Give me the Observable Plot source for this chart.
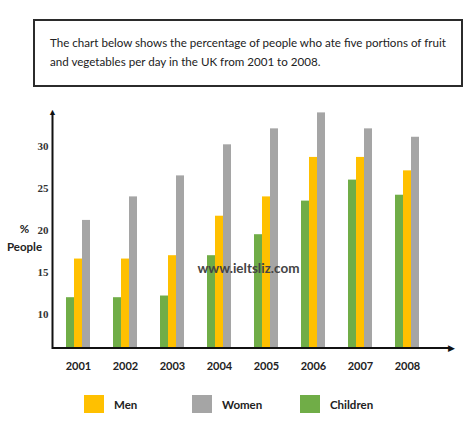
<!DOCTYPE html>
<html>
<head>
<meta charset="utf-8">
<script src="https://cdn.jsdelivr.net/npm/d3@7"></script>
<script src="https://cdn.jsdelivr.net/npm/@observablehq/plot@0.6"></script>
<style>
  html, body { margin: 0; padding: 0; background: #fff; }
  #wrap { position: relative; width: 474px; height: 421px; overflow: hidden; }
  #title {
    position: absolute; left: 33px; top: 19px; width: 426px; height: 64px;
    border: 2px solid #2b2b2b; box-sizing: content-box;
    font-family: Lato, "Noto Sans", sans-serif; font-size: 11.6px; line-height: 19px;
    color: #222; padding: 0; 
  }
  #title div { position: absolute; left: 15px; top: 12px; width: 400px; }
  #chart { position: absolute; left: 0; top: 95px; }
  #legend { position: absolute; left: 84px; top: 395px; display: flex;
    font-family: Lato, "Noto Sans", sans-serif; font-weight: bold; font-size: 11.5px; color: #222; }
  .item { display: flex; align-items: center; width: 108px; }
  .sw { width: 20px; height: 18px; margin-right: 10px; }
</style>
</head>
<body>
<div id="wrap">
  <div id="title"><div id="titletext"></div></div>
  <div id="chart"></div>
  <div id="legend"></div>
</div>
<script>
const titleText = "The chart below shows the percentage of people who ate five portions of fruit and vegetables per day in the UK from 2001 to 2008.";
const years = ["2001", "2002", "2003", "2004", "2005", "2006", "2007", "2008"];
const children = [12, 12, 12.2, 17, 19.5, 23.5, 26, 24.2];
const men = [16.6, 16.6, 17, 21.7, 24, 28.7, 28.7, 27.1];
const women = [21.2, 24, 26.5, 30.2, 32.1, 34, 32.1, 31.1];
const yTicks = [10, 15, 20, 25, 30];
const seriesNames = ["Men", "Women", "Children"];
const seriesColors = ["#FFC000", "#A5A5A5", "#70AD47"];
const yLabel = "%\nPeople";
const watermark = "www.ieltsliz.com";

document.getElementById("titletext").textContent = titleText;

const rows = years.map((y, i) => ({year: y, children: children[i], men: men[i], women: women[i]}));
const color = Object.fromEntries(seriesNames.map((s, i) => [s, seriesColors[i]]));

const W = 474, H = 290, ML = 52, MR = 24, MT = 17.4, MB = 37.4;
const half = (W - ML - MR) + (H - MT - MB);

const chart = Plot.plot({
  width: W,
  height: H,
  marginLeft: ML,
  marginRight: MR,
  marginTop: MT,
  marginBottom: MB,
  style: {background: "transparent"},
  x: {domain: years, padding: 0.5, paddingOuter: 0.408, align: 0.31, label: null},
  y: {domain: [6, 34], label: null},
  marks: [
    Plot.barY(rows, {x: "year", y1: 6, y2: "children", fill: color.Children, insetRight: 16, insetLeft: 0}),
    Plot.barY(rows, {x: "year", y1: 6, y2: "men", fill: color.Men, insetLeft: 8, insetRight: 8}),
    Plot.barY(rows, {x: "year", y1: 6, y2: "women", fill: color.Women, insetLeft: 16, insetRight: 0}),
    Plot.frame({stroke: "#111", strokeWidth: 2, strokeDasharray: `0 ${half} ${half + 2}`}),
    Plot.axisY({ticks: yTicks, tickSize: 0, tickPadding: 4,
      fontFamily: "'Liberation Serif', serif", fontWeight: "bold", fontSize: 11, fill: "#333", label: null}),
    Plot.axisX({tickSize: 0, tickPadding: 14,
      fontFamily: "Lato, sans-serif", fontWeight: "bold", fontSize: 11, fill: "#222", label: null}),
    Plot.text(["▲"], {frameAnchor: "top-left", textAnchor: "middle", lineAnchor: "middle", dy: -1, fontSize: 9, fill: "#111"}),
    Plot.text(["▶"], {frameAnchor: "bottom-right", textAnchor: "middle", lineAnchor: "middle", dx: 1, fontSize: 9, fill: "#111"}),
    Plot.text([yLabel], {frameAnchor: "left", textAnchor: "middle", dx: -28, dy: 6, fontFamily: "Lato, sans-serif", fontWeight: "bold", fontSize: 11.5, fill: "#222", lineHeight: 1.5}),
    Plot.text([watermark], {frameAnchor: "middle", dx: -3, dy: 38, fontFamily: "Lato, sans-serif", fontWeight: "bold", fontSize: 13.5, fill: "#444"})
  ]
});
document.getElementById("chart").appendChild(chart);

const legend = document.getElementById("legend");
seriesNames.forEach((s, i) => {
  const item = document.createElement("div");
  item.className = "item";
  const sw = document.createElement("div");
  sw.className = "sw";
  sw.style.background = seriesColors[i];
  const t = document.createElement("span");
  t.textContent = s;
  item.appendChild(sw);
  item.appendChild(t);
  legend.appendChild(item);
});
</script>
</body>
</html>
